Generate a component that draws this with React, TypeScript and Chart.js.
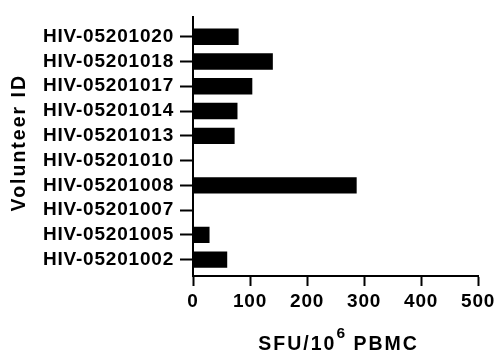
import React, { useEffect, useRef } from 'react';
import { Chart, registerables } from 'chart.js';

Chart.register(...registerables);

// Categories listed top to bottom
const categories: string[] = [
  'HIV-05201020',
  'HIV-05201018',
  'HIV-05201017',
  'HIV-05201014',
  'HIV-05201013',
  'HIV-05201010',
  'HIV-05201008',
  'HIV-05201007',
  'HIV-05201005',
  'HIV-05201002',
];
const values: number[] = [80, 140, 104, 78, 73, 0, 287, 0, 29, 60];
const xTickValues: number[] = [0, 100, 200, 300, 400, 500];
const xTitleMain = 'SFU/10';
const xTitleSup = '6';
const xTitleRest = ' PBMC';
const yTitle = 'Volunteer ID';

const FONT = '"Liberation Sans", Arial, Helvetica, sans-serif';

export default function App() {
  const ref = useRef<HTMLCanvasElement>(null);

  useEffect(() => {
    if (!ref.current) return;

    const titlePlugin = {
      id: 'customTitles',
      beforeDraw(chart: any) {
        chart.ctx.letterSpacing = '0.8px';
      },
      afterDraw(chart: any) {
        const ctx = chart.ctx as CanvasRenderingContext2D;
        const area = chart.chartArea;
        ctx.save();
        ctx.fillStyle = '#000';
        ctx.textBaseline = 'alphabetic';
        ctx.textAlign = 'left';

        const mainFont = `bold 19.5px ${FONT}`;
        const supFont = `bold 15.5px ${FONT}`;
        const mainSpacing = '2px';

        // X axis title with superscript
        (ctx as any).letterSpacing = mainSpacing;
        ctx.font = mainFont;
        const w1 = ctx.measureText(xTitleMain).width;
        const w3 = ctx.measureText(xTitleRest).width;
        ctx.font = supFont;
        (ctx as any).letterSpacing = '1px';
        const w2 = ctx.measureText(xTitleSup).width;
        const total = w1 + w2 + w3;
        const cx = (area.left + area.right) / 2 + 3;
        let x = cx - total / 2;
        const baseY = 350;
        (ctx as any).letterSpacing = mainSpacing;
        ctx.font = mainFont;
        ctx.fillText(xTitleMain, x, baseY);
        x += w1;
        (ctx as any).letterSpacing = '1px';
        ctx.font = supFont;
        ctx.fillText(xTitleSup, x, baseY - 12);
        x += w2;
        (ctx as any).letterSpacing = mainSpacing;
        ctx.font = mainFont;
        ctx.fillText(xTitleRest, x, baseY);

        // Y axis title (rotated)
        ctx.font = mainFont;
        (ctx as any).letterSpacing = mainSpacing;
        const wy = ctx.measureText(yTitle).width;
        const cy = (area.top + area.bottom) / 2 - 4;
        ctx.translate(25, cy + wy / 2);
        ctx.rotate(-Math.PI / 2);
        ctx.fillText(yTitle, 0, 0);
        ctx.restore();
      },
    };

    const tickFont = { family: FONT, size: 19, weight: 'bold' as const };

    const chart = new Chart(ref.current, {
      type: 'bar',
      data: {
        datasets: [
          {
            data: categories.map((_, i) => ({ x: values[i], y: i })),
            backgroundColor: '#000000',
            borderWidth: 0,
            barPercentage: 0.66,
            categoryPercentage: 1,
          },
        ],
      },
      options: {
        indexAxis: 'y',
        animation: false,
        responsive: true,
        maintainAspectRatio: false,
        layout: { padding: { top: 12, right: 18.7, left: 0, bottom: 0 } },
        plugins: {
          legend: { display: false },
          tooltip: { enabled: false },
        },
        scales: {
          x: {
            type: 'linear',
            position: 'bottom',
            min: 0,
            max: 500,
            offset: false,
            afterBuildTicks(scale: any) {
              scale.ticks = xTickValues.map((v) => ({ value: v }));
            },
            ticks: {
              color: '#000',
              font: tickFont,
              padding: 4,
              maxRotation: 0,
              autoSkip: false,
            },
            grid: {
              offset: false,
              drawOnChartArea: false,
              drawTicks: true,
              tickLength: 10,
              tickWidth: 2,
              tickColor: '#000',
            },
            border: { display: true, color: '#000', width: 2 },
            afterFit(scale: any) {
              scale.height = 76;
            },
          },
          y: {
            type: 'linear',
            position: 'left',
            reverse: true,
            offset: false,
            min: -0.78,
            max: 9.66,
            afterBuildTicks(scale: any) {
              scale.ticks = categories.map((_, i) => ({ value: i }));
            },
            ticks: {
              color: '#000',
              font: tickFont,
              padding: 6,
              autoSkip: false,
              callback: (v: any) => categories[Number(v)] ?? '',
            },
            grid: {
              offset: false,
              drawOnChartArea: false,
              drawTicks: true,
              tickLength: 13,
              tickWidth: 2,
              tickColor: '#000',
            },
            border: { display: true, color: '#000', width: 2 },
            afterFit(scale: any) {
              scale.width = 193;
            },
          },
        },
      } as any,
      plugins: [titlePlugin],
    });

    return () => chart.destroy();
  }, []);

  return (
    <div style={{ position: 'fixed', left: 0, top: 0, width: 498, height: 352 }}>
      <canvas ref={ref} />
    </div>
  );
}
